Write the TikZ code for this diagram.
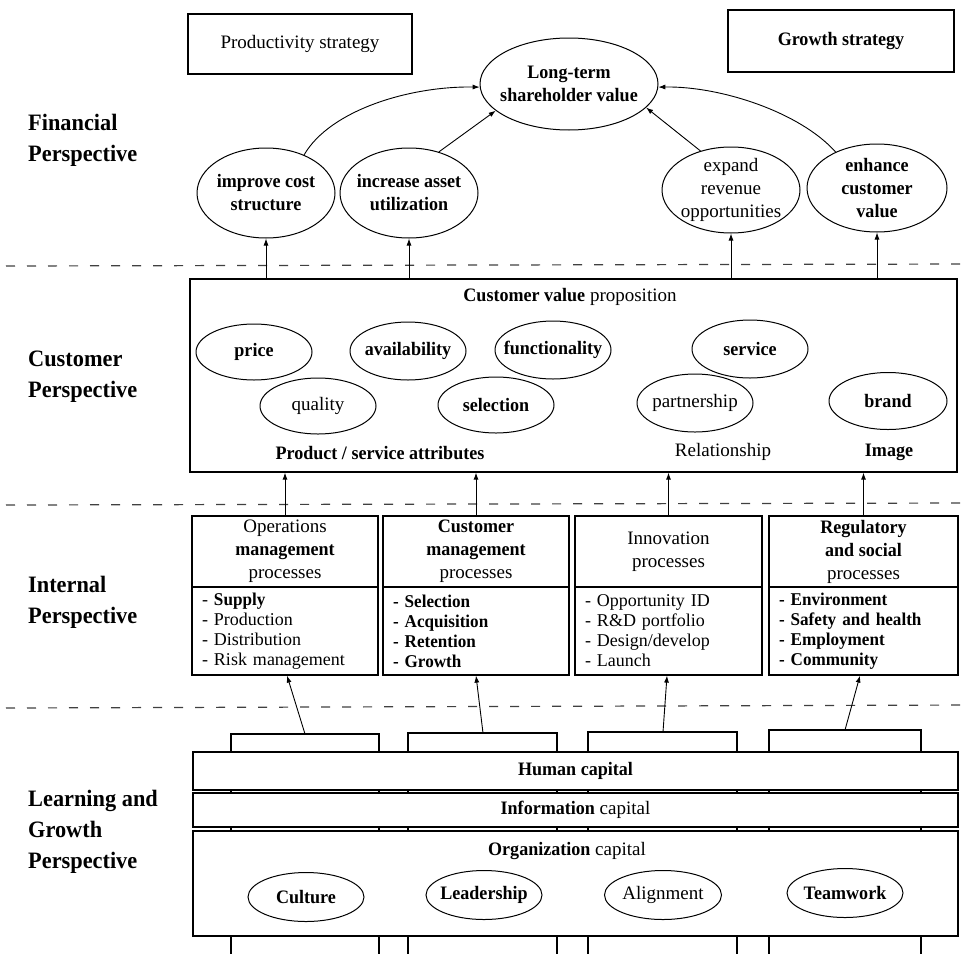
\documentclass[tikz,border=0pt]{standalone}
\usepackage{fontspec}
\setmainfont{Liberation Serif}
\newfontfamily\hvy{Liberation Serif Bold}[FakeStretch=0.95]
\usetikzlibrary{shapes.geometric,arrows.meta}
\newcommand\szA{\fontsize{19}{23}\selectfont}
\newcommand\szB{\fontsize{18}{20}\selectfont}
\newcommand\szL{\fontsize{23.5}{31}\selectfont}
\begin{document}
\begin{tikzpicture}[x=1pt,y=-1pt,
  box/.style={draw, rectangle, line width=1.2pt, inner sep=0pt, align=center, font=\szA},
  wbox/.style={box, fill=white},
  ell/.style={draw, ellipse, line width=1pt, inner sep=-40pt, align=center, font=\szA},
  txt/.style={inner sep=0pt, align=center, font=\szA},
  lst/.style={box, font=\szB, align=left},
  arr/.style={-{Latex[length=7pt,width=5pt]}, line width=0.9pt},
  sepl/.style={dash pattern=on 9pt off 12pt, line width=1.2pt, black!75},
  coll/.style={line width=1.2pt},
  lab/.style={anchor=west, inner sep=0pt, align=left, font=\szL\hvy}
]
\useasboundingbox (0,0) rectangle (971,953);

% separators
\draw[sepl] (6,266) -- (971,264);
\draw[sepl] (6,505) -- (971,503);
\draw[sepl] (6,708) -- (971,705);

% perspective labels
\node[lab] (fp) at (28,140) {Financial\\Perspective};
\node[lab] (cp) at (28,377) {Customer\\Perspective};
\node[lab] (ip) at (28,602) {Internal\\Perspective};
\node[lab] (lp) at (28,832) {Learning and\\Growth\\Perspective};

% financial
\node[box, minimum width=224, minimum height=60] (prod) at (300,44) {Productivity strategy};
\node[box, minimum width=226, minimum height=62] (grow) at (841,41) {\hvy Growth strategy};
\node[ell, minimum width=178, minimum height=92] (lt) at (569,84) {\hvy Long-term\\\hvy shareholder value};
\node[ell, minimum width=138, minimum height=90] (ic) at (266,193) {\hvy improve cost\\\hvy structure};
\node[ell, minimum width=138, minimum height=90] (ia) at (409,193) {\hvy increase asset\\\hvy utilization};
\node[ell, minimum width=138, minimum height=86] (er) at (731,190) {expand\\revenue\\opportunities};
\node[ell, minimum width=140, minimum height=88] (ec) at (877,188) {\hvy enhance\\\hvy customer\\\hvy value};

\draw[arr] (ic.45) .. controls (330,110) and (410,86) .. (lt.182);
\draw[arr] (ia.54) -- (lt.200);
\draw[arr] (er.128) -- (lt.-17);
\draw[arr] (ec.139) .. controls (800,112) and (720,86) .. (lt.-2);

% customer
\node[box, minimum width=767, minimum height=193] (cust) at (573.5,375.5) {};
\node[txt] (cvp) at (570,297) {{\hvy Customer value} proposition};
\node[ell, minimum width=116, minimum height=56] (price) at (254,352) {\hvy price};
\node[ell, minimum width=116, minimum height=58] (avail) at (408,351) {\hvy availability};
\node[ell, minimum width=116, minimum height=58] (func) at (553,350) {\hvy functionality};
\node[ell, minimum width=116, minimum height=58] (serv) at (750,349) {\hvy service};
\node[ell, minimum width=116, minimum height=56] (qual) at (318,406) {quality};
\node[ell, minimum width=116, minimum height=56] (sel) at (496,405) {\hvy selection};
\node[ell, minimum width=116, minimum height=58] (part) at (695,403) {partnership};
\node[ell, minimum width=118, minimum height=57] (brand) at (888,401) {\hvy brand};
\node[txt] (psa) at (380,453) {\hvy Product / service attributes};
\node[txt] (rel) at (723,452) {Relationship};
\node[txt] (img) at (889,452) {\hvy Image};

\foreach \e in {ic,ia,er,ec} \draw[arr] (\e.south |- cust.north) -- (\e.south);

% internal
\node[box, minimum width=186, minimum height=71] (opsH) at (285,551.5) {Operations\\{\hvy management}\\processes};
\node[lst, minimum width=186, minimum height=88, text width=166] (opsL) at (285,631) {- {\hvy Supply}\\- Production\\- Distribution\\- Risk management};
\node[box, minimum width=186, minimum height=71] (cmH) at (476,551.5) {\hvy Customer\\\hvy management\\processes};
\node[lst, minimum width=186, minimum height=88, text width=166] (cmL) at (476,631) {\hvy - Selection\\\hvy - Acquisition\\\hvy - Retention\\\hvy - Growth};
\node[box, minimum width=187, minimum height=71] (inH) at (668.5,551.5) {Innovation\\processes};
\node[lst, minimum width=187, minimum height=88, text width=167] (inL) at (668.5,631) {- Opportunity ID\\- R\&D portfolio\\- Design/develop\\- Launch};
\node[box, minimum width=189, minimum height=71] (rgH) at (863.5,551.5) {\hvy Regulatory\\\hvy and social\\processes};
\node[lst, minimum width=189, minimum height=88, text width=169] (rgL) at (863.5,631) {\hvy - Environment\\\hvy - Safety and health\\\hvy - Employment\\\hvy - Community};

\foreach \p in {opsH,cmH,inH,rgH} \draw[arr] (\p.north) -- (\p.north |- cust.south);

% learning and growth
\draw[coll] (231,960) -- (231,734) -- (379,734) -- (379,960);
\draw[coll] (408,960) -- (408,733) -- (557,733) -- (557,960);
\draw[coll] (588,960) -- (588,732) -- (737,732) -- (737,960);
\draw[coll] (769,960) -- (769,730) -- (921,730) -- (921,960);
\coordinate (k1) at (305,734);
\coordinate (k2) at (483,733);
\coordinate (k3) at (663,732);
\coordinate (k4) at (845,730);
\draw[arr] (k1) -- ([xshift=2pt]opsL.south);
\draw[arr] (k2) -- (cmL.south);
\draw[arr] (k3) -- ([xshift=-1.5pt]inL.south);
\draw[arr] (k4) -- ([xshift=-3.5pt]rgL.south);

\node[wbox, minimum width=765, minimum height=38] (hum) at (575.5,771) {\hvy Human capital};
\node[wbox, minimum width=765, minimum height=34] (inf) at (575.5,810) {{\hvy Information} capital};
\node[wbox, minimum width=765, minimum height=105] (org) at (575.5,883.5) {};
\node[txt] (orgt) at (567,851) {{\hvy Organization} capital};
\node[ell, minimum width=116, minimum height=49] (cul) at (306,897) {\hvy Culture};
\node[ell, minimum width=116, minimum height=49] (lead) at (484,895) {\hvy Leadership};
\node[ell, minimum width=117, minimum height=49] (ali) at (663,895) {Alignment};
\node[ell, minimum width=116, minimum height=49] (team) at (845,893) {\hvy Teamwork};
\end{tikzpicture}
\end{document}
